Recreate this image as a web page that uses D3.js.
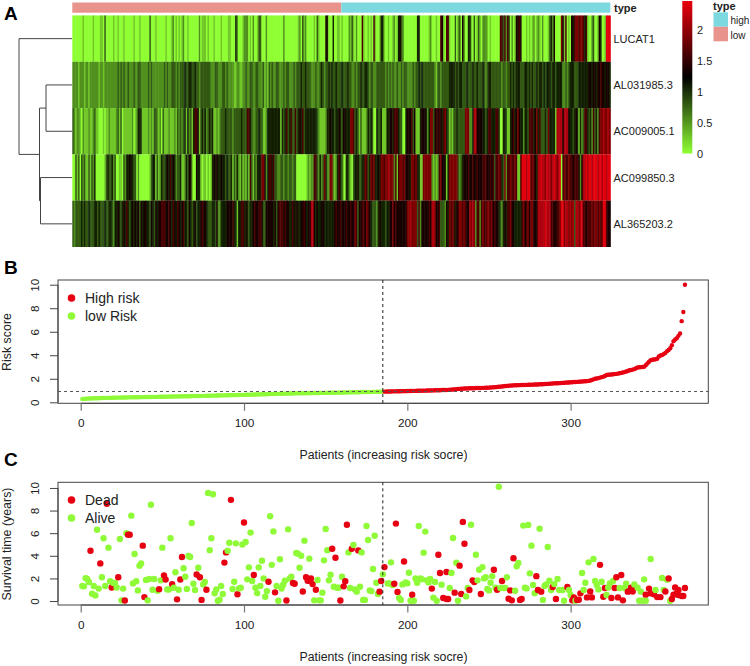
<!DOCTYPE html>
<html>
<head>
<meta charset="utf-8">
<script src="https://cdnjs.cloudflare.com/ajax/libs/d3/7.8.5/d3.min.js"></script>
<style>
  html, body { margin: 0; padding: 0; background: #fff; overflow: hidden; }
  text { font-family: "Liberation Sans", Arial, sans-serif; fill: #222; }
</style>
</head>
<body>
<svg id="canvas" width="750" height="666"></svg>
<script>
// heatmap : one digit per patient, 0 = bright green ... 9 = bright red
let genes = ['LUCAT1', 'AL031985.3', 'AC009005.1', 'AC099850.3', 'AL365203.2']
let lucat1 = '0000000100 0000100001 1030000010 0100010000 0010001000 0003000100 0000100012 0101012001 0000000201 1101000100 0010000110 0042000122 2010200133 0002000000 0000020000 0000012031 2000001031 0000540004 0011010000 2131020006 1001010610 0144100100 1201453200 0000000440 0000012000 1006510661 0003023052 0044103013 1022210100 0000663626 3020155650 0010101201 2102000134 2500007516 0105467767 7646100230 0154001999'
let al031985 = '2222122212 2122222212 2122222222 2323232232 2232233222 2232322222 2223232233 3232333433 4433433233 3333322233 2223323222 2112211223 2233223322 2312132322 3322232332 2232333433 4333222322 3432334343 3433343334 3322323343 3443233223 3333323232 3223223233 2222323343 4333333332 1332333334 4443434433 3433343343 3343234433 3333323323 3434344433 3443434334 3443434443 4434444223 2344433344 4444455455 4556554554'
let ac009005 = '3212210211 1211231100 0101121111 2313011111 1201244311 1121213321 2031112111 2132323414 2314665134 3423434112 1233343333 2333334333 6643223343 3112444444 4441434634 6336345463 4444444432 1111244544 3445435544 4776343131 1124343004 3341114455 4666433004 5556351114 5554247735 6565467431 2133433333 7772248855 5544346644 4664004431 1456457544 2443666457 4633343744 4418888588 8544345414 2366434263 4267787787'
let ac099850 = '0031303231 1313240000 0013433423 0011032445 4433020000 0001344131 2433454645 4233411243 5510054410 1101014545 4454434334 1324213121 3163132444 7752466463 3223323323 3233000000 0121226632 4237422772 1246431044 2103445334 4763476744 5477677877 7261677675 5547767441 1777777212 1267554147 7777732345 5565565565 5566655656 3667643726 6766761169 9989967654 8898879887 8987890676 6766566652 5889899899 9899899899'
let al365203 = '3233334343 3433344343 3343344324 4543454643 4545453545 5443543545 5666556546 5465456443 5434534456 5543334435 2244445555 6441446645 4344565566 5335555545 3566656554 4654544556 5455885454 4554444444 5655655565 5655763556 6576543332 4544434455 7565555555 7787777362 5555565887 5563332547 6764567767 6558787266 2676677675 6554324546 6755444446 7567577555 8888898886 6556679978 8787838878 9665666767 7676799655'
let heatRows = [lucat1, al031985, ac009005, ac099850, al365203]
let levelStep = 0.27
let heatTicks = [0, 0.5, 1, 1.5, 2]
let heatMax = 2.47
let typeNames = ['low', 'high']
let typeCounts = [185, 185]

// merge heights of the dendrogram : [row, row, height] then joined nodes
let mergeA = [1, 2, 2.6]
let mergeB = [3, 4, 3.15]
let mergeAB = 3.25
let mergeRoot = 5.3

// panel B : risk score by patient
let lowRisk = [0.28,0.29,0.30,0.31,0.32,0.33,0.33,0.34,0.34,0.35,
  0.35,0.36,0.36,0.37,0.37,0.38,0.38,0.38,0.39,0.39,
  0.39,0.40,0.40,0.40,0.41,0.41,0.41,0.41,0.42,0.42,
  0.42,0.43,0.43,0.43,0.43,0.44,0.44,0.44,0.44,0.45,
  0.45,0.45,0.45,0.46,0.46,0.46,0.46,0.47,0.47,0.47,
  0.47,0.48,0.48,0.48,0.49,0.49,0.49,0.50,0.50,0.50,
  0.50,0.51,0.51,0.51,0.52,0.52,0.52,0.53,0.53,0.53,
  0.54,0.54,0.54,0.55,0.55,0.55,0.56,0.56,0.56,0.57,
  0.57,0.57,0.58,0.58,0.58,0.59,0.59,0.59,0.60,0.60,
  0.60,0.61,0.61,0.61,0.62,0.62,0.62,0.63,0.63,0.63,
  0.64,0.64,0.65,0.65,0.65,0.66,0.66,0.67,0.67,0.67,
  0.68,0.68,0.69,0.69,0.70,0.70,0.71,0.71,0.71,0.72,
  0.72,0.73,0.73,0.73,0.74,0.74,0.74,0.75,0.75,0.75,
  0.76,0.76,0.76,0.76,0.77,0.77,0.77,0.77,0.78,0.78,
  0.78,0.78,0.79,0.79,0.79,0.79,0.80,0.80,0.80,0.80,
  0.80,0.81,0.81,0.81,0.81,0.82,0.82,0.82,0.82,0.83,
  0.83,0.83,0.84,0.84,0.84,0.85,0.85,0.85,0.86,0.86,
  0.86,0.87,0.87,0.87,0.88,0.88,0.88,0.89,0.89,0.89,
  0.90,0.90,0.90,0.91,0.91]
let highRisk = [0.91,0.91,0.92,0.92,0.92,0.93,0.93,0.93,0.94,0.94,
  0.94,0.95,0.95,0.95,0.96,0.96,0.96,0.97,0.97,0.97,
  0.98,0.98,0.98,0.99,0.99,0.99,1.00,1.00,1.00,1.01,
  1.01,1.02,1.02,1.03,1.03,1.04,1.04,1.05,1.05,1.06,
  1.07,1.08,1.09,1.10,1.12,1.13,1.14,1.15,1.16,1.17,
  1.18,1.18,1.19,1.19,1.20,1.20,1.21,1.21,1.22,1.22,
  1.23,1.23,1.24,1.24,1.25,1.26,1.27,1.28,1.29,1.30,
  1.32,1.33,1.35,1.36,1.38,1.39,1.41,1.42,1.43,1.44,
  1.45,1.45,1.46,1.46,1.47,1.47,1.48,1.48,1.49,1.49,
  1.50,1.50,1.51,1.52,1.52,1.53,1.54,1.54,1.55,1.56,
  1.57,1.58,1.59,1.60,1.61,1.62,1.62,1.63,1.64,1.65,
  1.66,1.67,1.68,1.69,1.70,1.71,1.72,1.73,1.74,1.75,
  1.76,1.77,1.78,1.79,1.80,1.82,1.85,1.90,1.95,2.00,
  2.03,2.06,2.10,2.14,2.18,2.24,2.32,2.34,2.35,2.36,
  2.38,2.40,2.42,2.44,2.47,2.50,2.53,2.57,2.62,2.66,
  2.72,2.75,2.78,2.82,2.90,2.96,2.98,2.99,3.00,3.02,
  3.15,3.30,3.45,3.58,3.62,3.64,3.66,3.70,3.90,3.98,
  4.02,4.10,4.20,4.35,4.45,4.60,4.85,5.20,5.35,5.45,
  5.65,5.85,6.90,7.68,10.0]
let cutPatient = 185
let cutRisk = 0.92

// panel C : survival time by patient
let deadX = [6,12,16,19,23,27,29,30,38,39,48,51,52,56,59,61,62,71,73,74,77,88,89,92,96,100,106,115,119,126,130,131,136,138,139,140,141,142,144,154,156,159,161,162,163,166,170,
  183,184,186,192,193,194,198,203,215,219,220,222,224,224,225,229,232,233,234,235,238,240,241,245,253,255,258,262,263,264,265,269,270,279,280,282,289,291,298,301,302,304,305,306,310,312,313,318,320,321,325,327,328,329,331,332,335,336,337,338,339,346,348,349,351,353,355,358,360,362,363,364,365,366,366,368,369,370]
let deadY = [4.45,3.33,8.6,1.2,2.1,0.05,5.87,5.87,4.9,0.35,1.05,2.27,1.9,1.5,0.15,1.9,3.9,2.35,2.1,0.1,1.0,3.4,4.3,8.95,0.6,6.95,2.3,1.7,0.77,0.05,1.6,1.53,0.85,2.1,1.8,1.8,2.0,1.5,1.0,4.63,3.83,0.05,1.3,1.75,6.75,4.63,4.48,
  0.83,1.77,3.0,1.53,6.85,0.8,3.5,0.56,1.1,4.1,2.48,0.27,2.57,0.18,0.18,0.74,3.13,0.62,7.0,5.07,0.97,1.83,1.68,0.62,2.77,1.0,1.77,0.2,0.94,0.06,3.78,0.1,0.18,2.2,0.97,0.83,1.24,0.18,1.24,0.06,0.32,0.1,0.12,0.68,0.32,0.85,0.32,3.2,0.38,1.15,0.27,1.15,2.1,0.32,2.3,0.06,0.83,0.88,1.18,0.85,1.2,0.56,1.1,0.68,0.6,0.35,0.35,0.85,2.0,0.18,0.56,1.2,0.68,0.97,0.53,0.44,0.44,1.15]
let aliveX = [1,2,3,4,5,7,8,9,10,11,13,14,15,17,18,20,21,22,24,25,26,28,31,32,33,34,35,36,37,40,41,42,43,44,45,47,49,50,53,54,55,57,58,60,63,64,65,66,67,68,69,70,72,75,76,78,79,80,81,82,83,84,85,86,87,90,91,93,94,95,97,98,99,101,102,103,104,105,107,108,109,110,111,112,113,114,116,117,118,120,121,122,123,124,125,127,128,129,132,133,134,135,137,140,143,145,146,147,148,149,150,151,152,153,155,157,158,160,164,165,167,168,169,171,172,173,174,175,176,177,178,179,180,181,
  182,185,188,189,190,191,195,196,197,199,200,201,202,204,205,206,207,208,209,210,211,212,213,214,216,217,218,221,226,227,228,230,231,236,237,239,242,243,244,246,247,248,249,250,251,252,254,256,257,259,260,261,266,267,268,271,272,273,274,275,276,277,278,281,283,284,285,286,287,288,290,292,293,295,296,299,300,303,307,308,309,311,314,315,316,317,319,322,323,324,326,330,333,334,339,341,342,343,344,345,346,349,352,356,357,359,361]
let aliveY = [1.33,1.3,2.03,1.95,1.68,0.65,1.33,0.5,6.3,1.1,2.1,5.55,1.33,4.72,1.75,1.6,1.6,1.2,5.48,0.06,1.1,6.0,7.55,1.56,4.16,1.75,0.94,3.13,3.33,1.86,0.06,1.95,8.52,1.0,1.95,0.91,1.83,4.72,1.03,1.03,5.55,1.18,2.54,1.0,2.9,2.15,1.06,3.98,3.9,6.9,1.53,0.97,2.95,1.47,1.68,9.55,4.5,5.55,9.44,0.68,1.03,0.03,0.12,1.33,0.62,4.45,5.16,1.06,1.7,5.1,1.12,1.18,5.0,5.22,1.92,2.98,6.05,1.77,1.18,0.7,2.98,1.33,3.57,2.0,0.38,0.88,7.5,3.2,6.16,1.33,0.03,3.69,1.1,1.45,1.8,6.34,2.0,2.15,4.25,4.19,2.95,4.0,5.34,3.75,0.06,1.86,0.06,0.06,0.74,3.6,6.37,4.5,1.83,2.33,1.27,1.18,1.18,2.15,4.3,1.15,4.95,1.03,0.83,1.27,4.3,0.1,0.1,6.64,5.4,0.94,0.88,2.83,5.78,1.62,
  0.62,2.36,1.56,1.56,3.42,1.42,0.27,0.1,1.47,1.65,1.56,2.5,0.03,0.03,2.0,1.62,6.64,2.0,1.92,4.28,6.14,1.83,1.65,1.95,0.3,1.68,0.03,1.45,1.15,2.48,5.58,3.39,0.03,0.41,1.15,6.75,4.1,1.83,2.77,3.0,2.0,2.1,1.06,0.94,1.62,2.2,1.18,10.1,1.15,1.15,1.15,2.1,0.91,3.07,3.36,6.67,1.18,1.12,6.73,2.45,4.9,1.42,0.7,6.4,0.1,1.33,1.47,4.78,1.8,0.97,1.5,1.95,0.97,0.97,0.03,0.97,0.53,0.03,2.48,0.97,1.62,3.42,3.72,1.77,1.42,1.03,1.7,0.53,1.2,1.56,1.77,1.15,1.15,1.53,1.47,1.18,0.03,0.83,0.03,1.92,0.03,3.72,0.97,2.04,0.97,1.89,0.03]

let patientTicks = [0, 100, 200, 300]
let riskTicks = [0, 2, 4, 6, 8, 10]
let survivalTicks = [0, 2, 4, 6, 8, 10]

let red = '#e60012'
let green = '#8ffa38'
let lineColor = '#444'

let canvas = d3.select('#canvas')

// ---------- panel A ----------
let heatX = d3.scaleBand().domain(d3.range(370)).range([72.3, 610.3])
let heatY = d3.scaleBand().domain(d3.range(genes.length)).range([15.5, 247])
let heatColor = d3.scaleLinear().domain([0, heatMax / 2, heatMax]).range(['#8fff33', '#000000', '#ea000c'])

let defs = canvas.append('defs')
// the columns of the reference are slightly blurred sideways
defs.append('filter').attr('id', 'soft')
  .attr('x', 0).attr('y', 0).attr('width', 1).attr('height', 1)
  .append('feGaussianBlur').attr('stdDeviation', '0.45 0')

let heatGroup = canvas.append('g').attr('filter', 'url(#soft)')
heatRows.forEach((row, r) => {
  let cells = row.replace(/ /g, '').split('').map(c => +c * levelStep)
  heatGroup.append('g').selectAll('rect')
    .data(cells)
    .enter()
    .append('rect')
    .attr('x', (d, i) => heatX(i))
    .attr('y', heatY(r))
    .attr('width', heatX.bandwidth() + 0.5)
    .attr('height', heatY.bandwidth())
    .attr('fill', d => heatColor(d))
})

// annotation bar on top
let typeColor = d3.scaleOrdinal().domain(typeNames).range(['#e8938c', '#7dd9e0'])
let typeStart = d3.cumsum([0].concat(typeCounts))
canvas.selectAll('.typebar')
  .data(typeNames)
  .enter()
  .append('rect')
  .attr('class', 'typebar')
  .attr('x', (d, i) => heatX(typeStart[i]))
  .attr('y', 2.5)
  .attr('width', (d, i) => heatX.bandwidth() * typeCounts[i])
  .attr('height', 10.2)
  .attr('fill', d => typeColor(d))

canvas.append('text').attr('x', 614).attr('y', 12).style('font-size', '11px').style('font-weight', 'bold').text('type')

canvas.selectAll('.gene')
  .data(genes)
  .enter()
  .append('text')
  .attr('class', 'gene')
  .attr('x', 613.5)
  .attr('y', (d, i) => heatY(i) + heatY.bandwidth() / 2 + 4)
  .style('font-size', '11px')
  .text(d => d)

// dendrogram
let dendroX = d3.scaleLinear().domain([0, mergeRoot]).range([72, 19])
let rowMid = i => heatY(i) + heatY.bandwidth() / 2
let link = (h, y1, h1, y2, h2) => `M${dendroX(h1)},${y1}H${dendroX(h)}V${y2}H${dendroX(h2)}`
let midA = (rowMid(mergeA[0]) + rowMid(mergeA[1])) / 2
let midB = (rowMid(mergeB[0]) + rowMid(mergeB[1])) / 2
let midAB = (midA + midB) / 2
let dendroPaths = [
  link(mergeA[2], rowMid(mergeA[0]), 0, rowMid(mergeA[1]), 0),
  link(mergeB[2], rowMid(mergeB[0]), 0, rowMid(mergeB[1]), 0),
  link(mergeAB, midA, mergeA[2], midB, mergeB[2]),
  link(mergeRoot, rowMid(0), 0, midAB, mergeAB)
]
canvas.selectAll('.dendro')
  .data(dendroPaths)
  .enter()
  .append('path')
  .attr('class', 'dendro')
  .attr('d', d => d)
  .attr('fill', 'none')
  .attr('stroke', lineColor)
  .attr('stroke-width', 1)

// colour key
let gradient = defs.append('linearGradient')
  .attr('id', 'key').attr('x1', 0).attr('x2', 0).attr('y1', 1).attr('y2', 0)
heatColor.domain().forEach(v => {
  gradient.append('stop').attr('offset', v / heatMax).attr('stop-color', heatColor(v))
})
let keyY = d3.scaleLinear().domain([0, heatMax]).range([153.5, 1])
canvas.append('rect').attr('x', 682.3).attr('y', 1).attr('width', 10).attr('height', 152.5).attr('fill', 'url(#key)')
canvas.selectAll('.keytick')
  .data(heatTicks)
  .enter()
  .append('text')
  .attr('class', 'keytick')
  .attr('x', 697)
  .attr('y', d => keyY(d) + 4)
  .style('font-size', '11px')
  .text(d => d)

// type legend
canvas.append('text').attr('x', 713).attr('y', 9.5).style('font-size', '11px').style('font-weight', 'bold').text('type')
typeNames.slice().reverse().forEach((t, i) => {
  canvas.append('rect').attr('x', 713.5).attr('y', 12.3 + i * 14.5).attr('width', 14.5).attr('height', 14.5).attr('fill', typeColor(t))
  canvas.append('text').attr('x', 730.5).attr('y', 24 + i * 14.5).style('font-size', '10px').text(t)
})

// ---------- panels B and C ----------
let x = d3.scaleLinear().domain([-13.9, 384.3]).range([58, 708.3])

let drawFrame = (top, bottom, y, ticks, yTitle, yTitleMid, titleY) => {
  canvas.append('rect')
    .attr('x', 58).attr('y', top)
    .attr('width', 650.3).attr('height', bottom - top)
    .attr('fill', 'none').attr('stroke', lineColor).attr('stroke-width', 1)

  let xAxis = canvas.append('g')
    .attr('transform', `translate(0,${bottom})`)
    .call(d3.axisBottom(x).tickValues(patientTicks).tickSize(7.5).tickSizeOuter(0).tickPadding(8))
  xAxis.select('.domain').attr('d', `M${x(patientTicks[0])},0H${x(patientTicks[3])}`).attr('stroke', lineColor)
  xAxis.selectAll('line').attr('stroke', '#777').attr('stroke-width', 1.2)
  xAxis.selectAll('text').style('font-size', '11.8px').style('font-family', '"Liberation Sans"').attr('fill', '#222')

  let yAxis = canvas.append('g')
    .attr('transform', 'translate(58,0)')
    .call(d3.axisLeft(y).tickValues(ticks).tickSize(8).tickSizeOuter(0))
  yAxis.select('.domain').attr('d', `M0,${y(ticks[0])}V${y(ticks[ticks.length - 1])}`).attr('stroke', lineColor)
  yAxis.selectAll('line').attr('stroke', lineColor)
  yAxis.selectAll('text')
    .attr('transform', 'rotate(-90)')
    .attr('x', 0).attr('y', -19).attr('dy', 0)
    .style('text-anchor', 'middle')
    .style('font-size', '11.8px').style('font-family', '"Liberation Sans"').attr('fill', '#222')

  canvas.append('text')
    .attr('transform', `translate(11,${yTitleMid}) rotate(-90)`)
    .style('text-anchor', 'middle').style('font-size', '12.4px')
    .text(yTitle)
  canvas.append('text')
    .attr('x', 383.5).attr('y', titleY)
    .style('text-anchor', 'middle').style('font-size', '12.3px')
    .text('Patients (increasing risk socre)')
}

let drawLegend = (rows, top) => {
  rows.forEach((row, i) => {
    canvas.append('circle').attr('cx', 71.5).attr('cy', top + i * 18).attr('r', 3.8).attr('fill', row[1])
    canvas.append('text').attr('x', 85).attr('y', top + i * 18 + 5).style('font-size', '14px').text(row[0])
  })
}

// panel B
let yRisk = d3.scaleLinear().domain([-0.085, 10.4]).range([403.3, 280])
drawFrame(280, 403.3, yRisk, riskTicks, 'Risk score', 342, 459)

let riskPoints = lowRisk.map((v, i) => [i + 1, v, green]).concat(highRisk.map((v, i) => [lowRisk.length + i + 1, v, red]))
canvas.append('g').selectAll('circle')
  .data(riskPoints)
  .enter()
  .append('circle')
  .attr('cx', d => x(d[0]))
  .attr('cy', d => yRisk(d[1]))
  .attr('r', 2.2)
  .attr('fill', d => d[2])

canvas.append('line')
  .attr('x1', 58).attr('x2', 708.3).attr('y1', yRisk(cutRisk)).attr('y2', yRisk(cutRisk))
  .attr('stroke', '#555').attr('stroke-dasharray', '3,3').attr('stroke-width', 1)
canvas.append('line')
  .attr('x1', x(cutPatient)).attr('x2', x(cutPatient)).attr('y1', 280).attr('y2', 403.3)
  .attr('stroke', '#222').attr('stroke-dasharray', '3,3').attr('stroke-width', 1)
drawLegend([['High risk', red], ['low Risk', green]], 298)

// panel C
let ySurv = d3.scaleLinear().domain([-0.35, 10.5]).range([605, 482.3])
drawFrame(482.3, 605, ySurv, survivalTicks, 'Survival time (years)', 544, 661)

let survPoints = deadX.map((v, i) => [v, deadY[i], red]).concat(aliveX.map((v, i) => [v, aliveY[i], green]))
survPoints.sort((a, b) => a[0] - b[0])
canvas.append('g').selectAll('circle')
  .data(survPoints)
  .enter()
  .append('circle')
  .attr('cx', d => x(d[0]))
  .attr('cy', d => ySurv(d[1]))
  .attr('r', 3.2)
  .attr('fill', d => d[2])

canvas.append('line')
  .attr('x1', x(cutPatient)).attr('x2', x(cutPatient)).attr('y1', 482.3).attr('y2', 605)
  .attr('stroke', '#222').attr('stroke-dasharray', '3,3').attr('stroke-width', 1)
drawLegend([['Dead', red], ['Alive', green]], 500)

// panel letters
let letters = ['A', 'B', 'C']
let letterY = [20, 274, 466]
canvas.selectAll('.letter')
  .data(letters)
  .enter()
  .append('text')
  .attr('class', 'letter')
  .attr('x', 4)
  .attr('y', (d, i) => letterY[i])
  .style('font-size', '19px')
  .style('font-weight', 'bold')
  .style('fill', '#000')
  .text(d => d)
</script>
</body>
</html>
